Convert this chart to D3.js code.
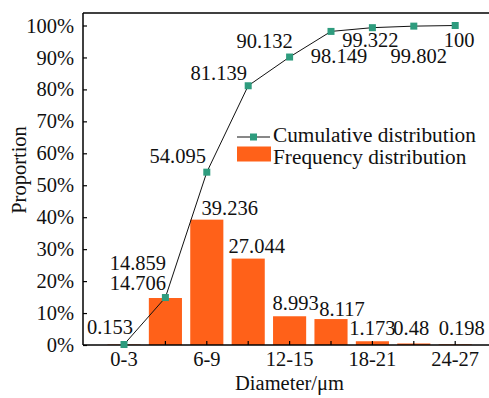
<!DOCTYPE html>
<html><head><meta charset="utf-8">
<script src="https://cdn.jsdelivr.net/npm/d3@7"></script>
<style>html,body{margin:0;padding:0;background:#fff;}</style>
</head>
<body>
<svg id="c" width="489" height="398"></svg>
<script>
const categories = ["0-3","3-6","6-9","9-12","12-15","15-18","18-21","21-24","24-27"];
const frequency = [0.153,14.706,39.236,27.044,8.993,8.117,1.173,0.48,0.198];
const cumulative = [0.153,14.859,54.095,81.139,90.132,98.149,99.322,99.802,100];
const tickLabels = ["0-3","6-9","12-15","18-21","24-27"];
const yTicks = [0,10,20,30,40,50,60,70,80,90,100];

// label placement (style)
const cumOffsets = [[-14,-11],[-27.5,-27.5],[-29,-9],[-29.5,-6],[-25,-9],[8,32],[-2,19],[5,37],[4,21.5]];
const freqOffsets = [null,[-27.5,-8],[23,-5],[8.5,-5.5],[6,-6],[11,-3],[0,-6],[-2.5,-8.5],[6.5,-9]];

(function(){
const svg = d3.select("#c");
const mLeft = 83, mTop = 13, mBottom = 345, rightEdge = 489;
const orange = "#ff6119", teal = "#2e9c7e";
const FS = 20.5;
const FF = "'Liberation Serif', 'Times New Roman', serif";
const st = sel => sel.style("font-family", FF).style("fill", "#111");

const x = d3.scaleBand().domain(categories).range([103.3, 475.9]).paddingInner(0.2).paddingOuter(0.1);
const y = d3.scaleLinear().domain([0,100]).range([mBottom, 25.5]);
const cx = c => x(c) + x.bandwidth()/2;

// bars
svg.append("g").selectAll("rect").data(categories).join("rect")
  .attr("x", c => x(c)).attr("width", x.bandwidth())
  .attr("y", (c,i) => y(frequency[i])).attr("height", (c,i) => mBottom - y(frequency[i]))
  .attr("fill", orange);

// axes frame
svg.append("line").attr("x1",mLeft).attr("x2",rightEdge).attr("y1",mTop).attr("y2",mTop).attr("stroke","#000").attr("stroke-width",1.5);
svg.append("line").attr("x1",mLeft).attr("x2",mLeft).attr("y1",mTop).attr("y2",mBottom).attr("stroke","#000").attr("stroke-width",1.5);

// x axis
const xAxis = d3.axisBottom(x).tickSizeInner(-4).tickSizeOuter(0).tickPadding(6)
  .tickFormat(d => tickLabels.includes(d) ? d : "");
const gx = svg.append("g").attr("transform",`translate(0,${mBottom})`).call(xAxis);
gx.select(".domain").remove();
gx.selectAll(".tick line").attr("stroke","#000").attr("stroke-width",1.2);
gx.selectAll(".tick text").attr("font-size",FS).attr("dy","0.75em").call(st);
svg.append("line").attr("x1",mLeft).attr("x2",rightEdge).attr("y1",mBottom).attr("y2",mBottom).attr("stroke","#000").attr("stroke-width",1.5);

// y axis
const yAxis = d3.axisLeft(y).tickValues(yTicks).tickSizeInner(-4).tickSizeOuter(0).tickPadding(9).tickFormat(d => d + "%");
const gy = svg.append("g").attr("transform",`translate(${mLeft},0)`).call(yAxis);
gy.select(".domain").remove();
gy.selectAll(".tick line").attr("stroke","#000").attr("stroke-width",1.2);
gy.selectAll(".tick text").attr("font-size",FS).call(st);

// cumulative line
const line = d3.line().x((d,i) => cx(categories[i])).y(d => y(d));
svg.append("path").datum(cumulative).attr("d", line).attr("fill","none").attr("stroke","#111").attr("stroke-width",1);
svg.append("g").selectAll("rect").data(cumulative).join("rect")
  .attr("x",(d,i)=>cx(categories[i])-3.5).attr("y",d=>y(d)-3.5).attr("width",7).attr("height",7).attr("fill",teal);

// value labels
svg.append("g").selectAll("text").data(cumulative).join("text")
  .attr("x",(d,i)=>cx(categories[i])+cumOffsets[i][0]).attr("y",(d,i)=>y(d)+cumOffsets[i][1])
  .attr("text-anchor","middle").attr("font-size",FS).call(st).text(d=>d);
svg.append("g").selectAll("text").data(frequency.map((v,i)=>({v,i})).filter(d=>freqOffsets[d.i])).join("text")
  .attr("x",d=>cx(categories[d.i])+freqOffsets[d.i][0]).attr("y",d=>y(d.v)+freqOffsets[d.i][1])
  .attr("text-anchor","middle").attr("font-size",FS).call(st).text(d=>d.v);

// legend
const lg = svg.append("g");
lg.append("line").attr("x1",237).attr("x2",270).attr("y1",137).attr("y2",137).attr("stroke","#111").attr("stroke-width",1);
lg.append("rect").attr("x",250).attr("y",133.5).attr("width",7).attr("height",7).attr("fill",teal);
lg.append("text").attr("x",273).attr("y",142).attr("font-size",21.3).call(st).text("Cumulative distribution");
lg.append("rect").attr("x",237).attr("y",146.5).attr("width",34).attr("height",15).attr("fill",orange);
lg.append("text").attr("x",273).attr("y",164).attr("font-size",21.3).call(st).text("Frequency distribution");

// axis titles
svg.append("text").attr("x",289.5).attr("y",390).attr("text-anchor","middle").attr("font-size",FS).call(st).text("Diameter/μm");
svg.append("text").attr("transform","translate(25.5,170) rotate(-90)").attr("text-anchor","middle").attr("font-size",FS).call(st).text("Proportion");
})();
</script>
</body></html>
